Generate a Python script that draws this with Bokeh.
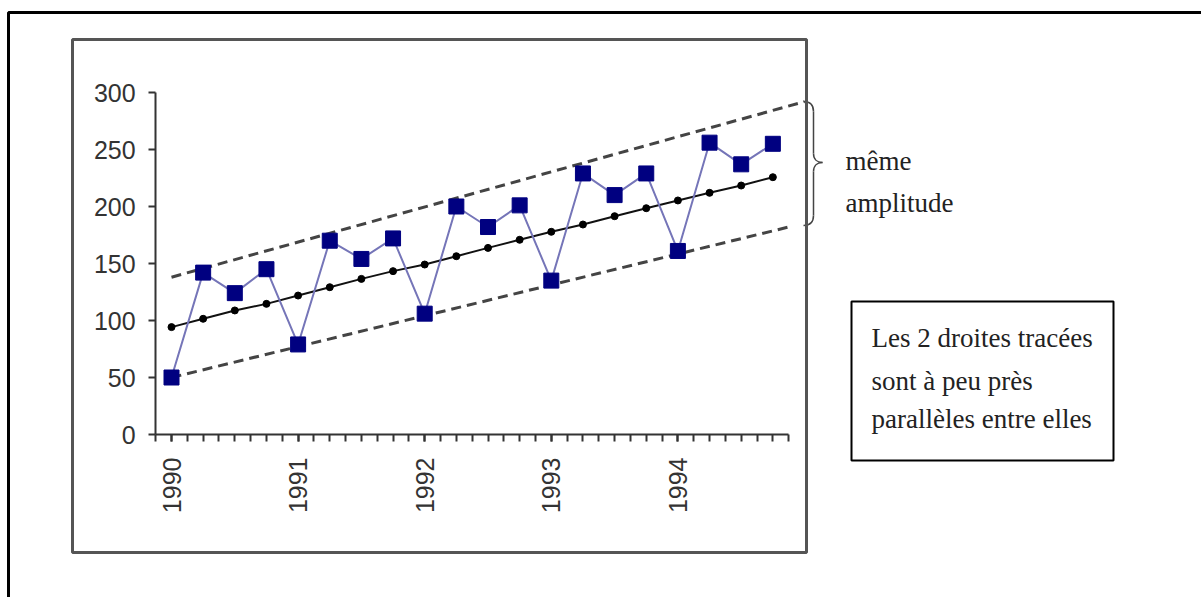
import math
from bokeh.plotting import figure
from bokeh.models import Range1d, FixedTicker, BoxAnnotation, Label
from bokeh.embed import file_html
from bokeh.resources import INLINE

# ---------------- data ----------------
quarters = list(range(20))                      # 1990 Q1 ... 1994 Q4
year_labels = ["1990", "1991", "1992", "1993", "1994"]
year_positions = [0, 4, 8, 12, 16]
series = [50, 142, 124, 145, 79, 170, 154, 172, 106, 200,
          182, 201, 135, 229, 210, 229, 161, 256, 237, 255]
trend = [94.2, 101.5, 108.8, 114.6, 121.9, 129.2, 136.5, 143.3, 149.1, 156.4,
         163.7, 170.8, 177.8, 184.2, 191.5, 198.5, 205.3, 212.0, 218.4, 225.7]
upper_x = [0, 20]
upper_y = [138, 292]
lower_x = [0, 19.5]
lower_y = [50, 182]
y_ticks = [0, 50, 100, 150, 200, 250, 300]

# ---------------- layout helpers (picture px -> data) ----------------
W, H = 1201, 597
OFF = 0                   # page offset of the figure in the picture
X0, DX = 171.0, 31.65     # picture x of quarter 0, px per quarter
Y0, DY = 434.0, 1.14      # picture y of value 0, px per unit
def sx(px):
    return (px - X0) / DX
def sy(py):
    return (Y0 - py) / DY

p = figure(width=W, height=H, output_backend="svg", toolbar_location=None,
           x_range=Range1d(sx(OFF), sx(OFF + W)),
           y_range=Range1d(sy(OFF + H), sy(OFF)),
           min_border=0)
p.outline_line_color = None
p.xgrid.visible = False
p.ygrid.visible = False
p.background_fill_color = "white"
p.border_fill_color = "white"

# axes (drawn at fixed data locations so the frame covers the whole canvas)
minor = sorted(set([q - 0.5 for q in quarters] + quarters + [quarters[-1] + 0.5]))
xa = p.xaxis[0]
xa.fixed_location = 0
xa.ticker = FixedTicker(ticks=year_positions, minor_ticks=minor)
xa.major_label_overrides = {pos: lab for pos, lab in zip(year_positions, year_labels)}
xa.bounds = (quarters[0] - 0.5, quarters[-1] + 0.5)
xa.major_label_orientation = math.pi / 2
xa.major_tick_in = 0
xa.major_tick_out = 7
xa.minor_tick_in = 0
xa.minor_tick_out = 7
xa.major_label_standoff = 16
xa.major_label_text_font = "Liberation Sans"
xa.major_label_text_font_size = "25px"
xa.major_label_text_color = "#333333"

ya = p.yaxis[0]
ya.fixed_location = quarters[0] - 0.5
ya.ticker = FixedTicker(ticks=y_ticks, minor_ticks=[])
ya.bounds = (y_ticks[0], y_ticks[-1])
ya.major_tick_in = 0
ya.major_tick_out = 7
ya.minor_tick_out = 0
ya.major_label_standoff = 13
ya.major_label_text_font = "Liberation Sans"
ya.major_label_text_font_size = "25px"
ya.major_label_text_color = "#333333"

for ax in (xa, ya):
    ax.axis_line_color = "#333333"
    ax.axis_line_width = 2
    ax.major_tick_line_color = "#333333"
    ax.major_tick_line_width = 2
    ax.minor_tick_line_color = "#333333"
    ax.minor_tick_line_width = 2

# envelope lines
p.line(upper_x, upper_y, line_color="#444444", line_width=3, line_dash="10 6")
p.line(lower_x, lower_y, line_color="#444444", line_width=3, line_dash="10 6")

# trend
p.line(quarters, trend, line_color="#111111", line_width=2)
p.scatter(quarters, trend, marker="circle", size=7, color="black")

# series
p.line(quarters, series, line_color="#7575b8", line_width=2)
p.scatter(quarters, series, marker="square", size=15, color="#000080")

# ---------------- decorations ----------------
# outer frame (left and top edges)
p.add_layout(BoxAnnotation(left=sx(8), right=sx(1400), top=sy(12), bottom=sy(800),
                           fill_alpha=0, line_color="black", line_alpha=1, line_width=3))
# chart box
p.add_layout(BoxAnnotation(left=sx(72), right=sx(806), top=sy(39), bottom=sy(552),
                           fill_alpha=0, line_color="#555555", line_alpha=1, line_width=3))
# note box
p.add_layout(BoxAnnotation(left=sx(851), right=sx(1113), top=sy(301), bottom=sy(460),
                           fill_alpha=0, line_color="black", line_alpha=1, line_width=2))

# brace
segs = [
    ((803, 101), (813, 111), (810, 101), (813, 104)),
    ((813, 111), (813, 153), (813, 111), (813, 153)),
    ((813, 153), (822, 162), (813, 159), (817, 162)),
    ((822, 162), (813, 171), (817, 162), (813, 165)),
    ((813, 171), (813, 215), (813, 171), (813, 215)),
    ((813, 215), (803, 225), (813, 222), (810, 225)),
]
p.bezier(x0=[sx(s[0][0]) for s in segs], y0=[sy(s[0][1]) for s in segs],
         x1=[sx(s[1][0]) for s in segs], y1=[sy(s[1][1]) for s in segs],
         cx0=[sx(s[2][0]) for s in segs], cy0=[sy(s[2][1]) for s in segs],
         cx1=[sx(s[3][0]) for s in segs], cy1=[sy(s[3][1]) for s in segs],
         line_color="#444444", line_width=1.5)

def add_text(txt, px, py):
    p.add_layout(Label(x=sx(px), y=sy(py), text=txt, text_font="Liberation Serif",
                       text_font_size="27px", text_color="#222222",
                       text_baseline="middle", text_align="left"))

add_text("même", 845, 160)
add_text("amplitude", 845, 202)
add_text("Les 2 droites tracées", 871, 337)
add_text("sont à peu près", 871, 380)
add_text("parallèles entre elles", 871, 418)

open("out.html", "w").write(file_html(p, INLINE))
